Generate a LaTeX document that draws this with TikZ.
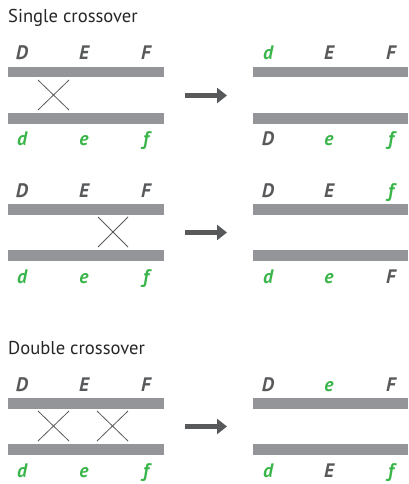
\documentclass[tikz,border=0pt]{standalone}
\usepackage{fontspec}
\setmainfont{PT Sans}
\usetikzlibrary{arrows.meta}
\definecolor{barc}{HTML}{939598}
\definecolor{txtc}{HTML}{58595B}
\definecolor{grn}{HTML}{39B54A}
\tikzset{
  bar/.style={rectangle, fill=barc, draw=none, inner sep=0pt, minimum height=10.5pt},
  lbar/.style={bar, minimum width=156pt},
  rbar/.style={bar, minimum width=155pt},
  lab/.style={anchor=base, inner sep=0pt, font=\fontsize{19.5}{22}\selectfont\bfseries\itshape, text=txtc},
  glab/.style={lab, text=grn},
  ttl/.style={anchor=base west, inner sep=0pt, font=\fontsize{18.6}{22}\selectfont, text=black!85},
  xline/.style={draw=txtc, line width=0.8pt},
  arr/.style={draw=txtc, line width=5pt, -{Triangle[length=10pt,width=15pt]}}
}
\begin{document}
\begin{tikzpicture}[x=1pt,y=-1pt]
\useasboundingbox (0,0) rectangle (408,484);
% ---------- Section 1: single crossover (left) ----------
\node[ttl] (t1) at (8,23) {Single crossover};
\node[lab] (a1D) at (22,60) {D};
\node[lab] (a1E) at (84,60) {E};
\node[lab] (a1F) at (146,60) {F};
\node[lbar] (a1top) at (86,72.25) {};
\node[lbar] (a1bot) at (86,118.25) {};
\node[glab] (a1d) at (22,146) {d};
\node[glab] (a1e) at (84,146) {e};
\node[glab] (a1f) at (146,146) {f};
\coordinate (c1a) at (38,80); \coordinate (c1b) at (69,110);
\coordinate (c1c) at (69,80); \coordinate (c1d) at (38,110);
\draw[xline] (c1a) -- (c1b);
\draw[xline] (c1c) -- (c1d);
\coordinate (r1s) at (185,95.5); \coordinate (r1e) at (227,95.5);
\draw[arr] (r1s) -- (r1e);
% right
\node[glab] (b1d) at (268,60) {d};
\node[lab] (b1E) at (329,60) {E};
\node[lab] (b1F) at (391,60) {F};
\node[rbar] (b1top) at (330.5,72.25) {};
\node[rbar] (b1bot) at (330.5,118.25) {};
\node[lab] (b1D) at (268,146) {D};
\node[glab] (b1e) at (329,146) {e};
\node[glab] (b1f) at (391,146) {f};
% ---------- Section 2 ----------
\node[lab] (a2D) at (22,197) {D};
\node[lab] (a2E) at (84,197) {E};
\node[lab] (a2F) at (146,197) {F};
\node[lbar] (a2top) at (86,209.25) {};
\node[lbar] (a2bot) at (86,255.25) {};
\node[glab] (a2d) at (22,283) {d};
\node[glab] (a2e) at (84,283) {e};
\node[glab] (a2f) at (146,283) {f};
\coordinate (c2a) at (98,217); \coordinate (c2b) at (128,247);
\coordinate (c2c) at (128,217); \coordinate (c2d) at (98,247);
\draw[xline] (c2a) -- (c2b);
\draw[xline] (c2c) -- (c2d);
\coordinate (r2s) at (185,232.5); \coordinate (r2e) at (227,232.5);
\draw[arr] (r2s) -- (r2e);
\node[lab] (b2D) at (268,197) {D};
\node[lab] (b2E) at (329,197) {E};
\node[glab] (b2f) at (391,197) {f};
\node[rbar] (b2top) at (330.5,209.25) {};
\node[rbar] (b2bot) at (330.5,255.25) {};
\node[glab] (b2d) at (268,283) {d};
\node[glab] (b2e) at (329,283) {e};
\node[lab] (b2F) at (391,283) {F};
% ---------- Section 3: double crossover ----------
\node[ttl] (t3) at (8,354) {Double crossover};
\node[lab] (a3D) at (22,391) {D};
\node[lab] (a3E) at (84,391) {E};
\node[lab] (a3F) at (146,391) {F};
\node[lbar] (a3top) at (86,403.25) {};
\node[lbar] (a3bot) at (86,449.25) {};
\node[glab] (a3d) at (22,477) {d};
\node[glab] (a3e) at (84,477) {e};
\node[glab] (a3f) at (146,477) {f};
\coordinate (c3a) at (38,411); \coordinate (c3b) at (69,441);
\coordinate (c3c) at (69,411); \coordinate (c3d) at (38,441);
\draw[xline] (c3a) -- (c3b);
\draw[xline] (c3c) -- (c3d);
\coordinate (c4a) at (97,411); \coordinate (c4b) at (128,441);
\coordinate (c4c) at (128,411); \coordinate (c4d) at (97,441);
\draw[xline] (c4a) -- (c4b);
\draw[xline] (c4c) -- (c4d);
\coordinate (r3s) at (185,426.5); \coordinate (r3e) at (227,426.5);
\draw[arr] (r3s) -- (r3e);
\node[lab] (b3D) at (268,391) {D};
\node[glab] (b3e) at (329,391) {e};
\node[lab] (b3F) at (391,391) {F};
\node[rbar] (b3top) at (330.5,403.25) {};
\node[rbar] (b3bot) at (330.5,449.25) {};
\node[glab] (b3d) at (268,477) {d};
\node[lab] (b3E) at (329,477) {E};
\node[glab] (b3f) at (391,477) {f};
\end{tikzpicture}
\end{document}
